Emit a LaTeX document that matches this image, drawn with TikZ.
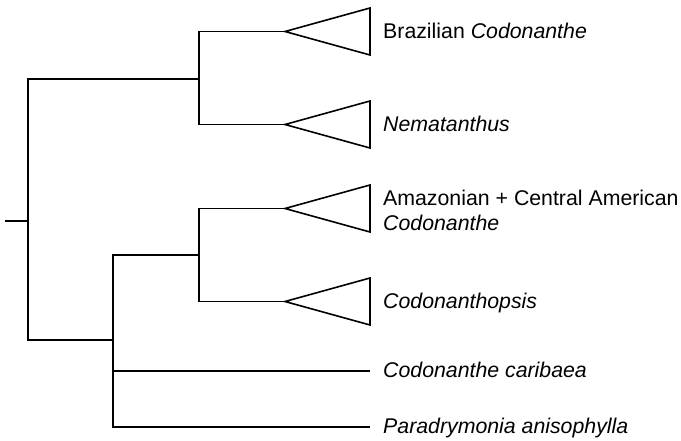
\documentclass[tikz,border=0pt]{standalone}
\usepackage{fontspec}
\setmainfont{Liberation Sans}
\usepackage{tikz}
\usetikzlibrary{positioning,calc}
\tikzset{
  rama/.style={draw=black,line width=1.6pt,line join=miter},
  clado/.style={rama,fill=white},
  taxon/.style={anchor=base west,inner sep=0pt,font=\fontsize{21.3}{25}\selectfont},
}
\begin{document}
\begin{tikzpicture}[x=1pt,y=-1pt]
  \useasboundingbox (0,0) rectangle (681,440);
  % nodos internos
  \coordinate (base) at (5,221);
  \coordinate (raiz) at (28,221);
  \coordinate (norte) at (199,79);
  \coordinate (sur) at (113,340);
  \coordinate (amaz) at (199,255);
  % vertices de los triangulos
  \coordinate (braz) at (285,31.5);
  \coordinate (nema) at (285,124.5);
  \coordinate (amcen) at (285,208.5);
  \coordinate (codps) at (285,301.5);
  \coordinate (carib) at (370,371);
  \coordinate (parad) at (370,427);
  \draw[rama] (base) -- (raiz);
  \draw[rama] (norte) -| (raiz) |- (sur);
  \draw[rama] (braz) -| (norte) |- (nema);
  \draw[rama] (amaz) -| (sur);
  \draw[rama] (amcen) -| (amaz) |- (codps);
  \draw[rama] (carib) -| (sur) |- (parad);
  \foreach \c in {braz,nema,amcen,codps}
    \draw[clado] (\c) -- ++(85,-23.5) -- ++(0,47) -- cycle;
  % etiquetas
  \node[taxon] (lbraz) at (383,38) {Brazilian \textit{Codonanthe}};
  \node[taxon] (lnema) at (383,131) {\textit{Nematanthus}};
  \node[taxon] (lamcen) at (383,205) {Amazonian + Central American};
  \node[taxon] (lamcod) at (383,230) {\textit{Codonanthe}};
  \node[taxon] (lcodps) at (383,308) {\textit{Codonanthopsis}};
  \node[taxon] (lcarib) at (383,377.5) {\textit{Codonanthe caribaea}};
  \node[taxon] (lparad) at (383,433.5) {\textit{Paradrymonia anisophylla}};
\end{tikzpicture}
\end{document}
